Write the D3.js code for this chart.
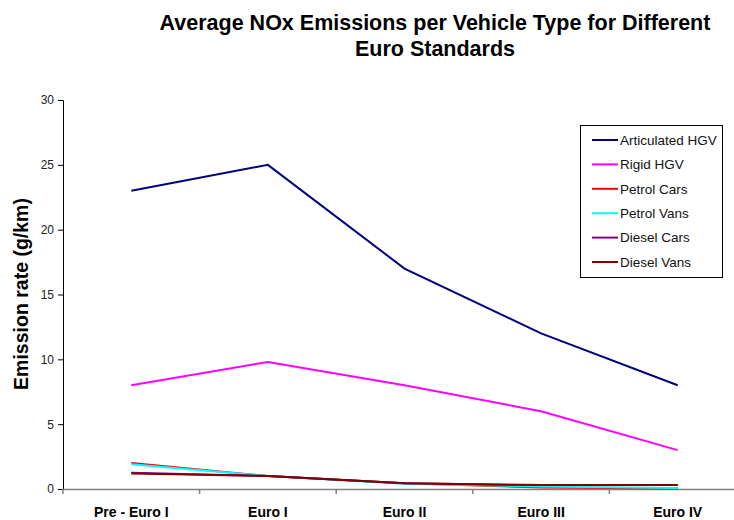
<!DOCTYPE html>
<html>
<head>
<script src="https://d3js.org/d3.v7.min.js"></script>
<style>
  body { margin: 0; background: #fff; }
  svg { font-family: "Liberation Sans", Arial, sans-serif; }
</style>
</head>
<body>
<svg id="chart" width="734" height="520"></svg>
<script>
// categories along the x axis
const standards = ["Pre - Euro I", "Euro I", "Euro II", "Euro III", "Euro IV"];
// series names + values (g/km)
const vehicleTypes = ["Articulated HGV", "Rigid HGV", "Petrol Cars", "Petrol Vans", "Diesel Cars", "Diesel Vans"];
const articulatedHGV = [23, 25, 17, 12, 8];
const rigidHGV = [8, 9.8, 8, 6, 3];
const petrolCars = [2.0, 1.0, 0.45, 0.12, 0.03];
const petrolVans = [1.9, 1.0, 0.4, 0.2, 0.08];
const dieselCars = [1.25, 1.0, 0.45, 0.3, 0.3];
const dieselVans = [1.2, 1.0, 0.45, 0.3, 0.3];
const yTicks = [0, 5, 10, 15, 20, 25, 30];

const seriesValues = [articulatedHGV, rigidHGV, petrolCars, petrolVans, dieselCars, dieselVans];
const colors = ["#000080", "#ff00ff", "#ff0000", "#00ffff", "#800080", "#800000"];

const svg = d3.select("svg#chart");

const x = d3.scaleBand().domain(standards).range([63, 746]);
const y = d3.scaleLinear().domain([0, 30]).range([489, 100]);

// title
svg.append("text").attr("x", 435).attr("y", 30).attr("text-anchor", "middle")
   .attr("font-size", 21.5).attr("font-weight", "bold")
   .text("Average NOx Emissions per Vehicle Type for Different");
svg.append("text").attr("x", 435).attr("y", 56).attr("text-anchor", "middle")
   .attr("font-size", 21.5).attr("font-weight", "bold")
   .text("Euro Standards");

// y axis
const yAxis = svg.append("g").attr("transform", "translate(63,0)")
   .call(d3.axisLeft(y).tickValues(yTicks).tickSize(5).tickPadding(4));
yAxis.select(".domain").attr("stroke", "#000");
yAxis.selectAll("text").attr("font-size", 12).attr("fill", "#222")
   .attr("font-family", "'Liberation Sans', Arial, sans-serif");

// x axis
const xAxis = svg.append("g").attr("transform", "translate(0,489)")
   .call(d3.axisBottom(x).tickSize(0).tickPadding(18));
xAxis.select(".domain").attr("stroke", "#808080").attr("stroke-width", 1.5);
xAxis.selectAll("text").attr("font-size", 14).attr("font-weight", "bold").attr("fill", "#000")
   .attr("font-family", "'Liberation Sans', Arial, sans-serif");
// tick marks sit between the categories
xAxis.selectAll("line.sep").data(standards).join("line").attr("class", "sep")
   .attr("x1", d => x(d)).attr("x2", d => x(d))
   .attr("y1", 0).attr("y2", 5).attr("stroke", "#808080").attr("stroke-width", 1.5);

// y axis title
svg.append("text").attr("transform", "translate(28,294) rotate(-90)")
   .attr("text-anchor", "middle").attr("font-size", 19.5).attr("font-weight", "bold")
   .text("Emission rate (g/km)");

// lines
const line = d3.line().x((d, i) => x(standards[i]) + x.bandwidth() / 2).y(d => y(d));
svg.append("g").selectAll("path").data(seriesValues).join("path")
   .attr("d", d => line(d)).attr("fill", "none")
   .attr("stroke", (d, i) => colors[i]).attr("stroke-width", 2);

// legend
const legend = svg.append("g");
legend.append("rect").attr("x", 580.5).attr("y", 125.5).attr("width", 142).attr("height", 152)
   .attr("fill", "#fff").attr("stroke", "#000");
const rows = legend.selectAll("g.item").data(vehicleTypes).join("g").attr("class", "item")
   .attr("transform", (d, i) => `translate(0,${140 + i * 24.4})`);
rows.append("line").attr("x1", 592).attr("x2", 618).attr("stroke", (d, i) => colors[i]).attr("stroke-width", 2);
rows.append("text").attr("x", 620).attr("dy", "0.35em").attr("font-size", 13.5).attr("fill", "#111").text(d => d);
</script>
</body>
</html>
